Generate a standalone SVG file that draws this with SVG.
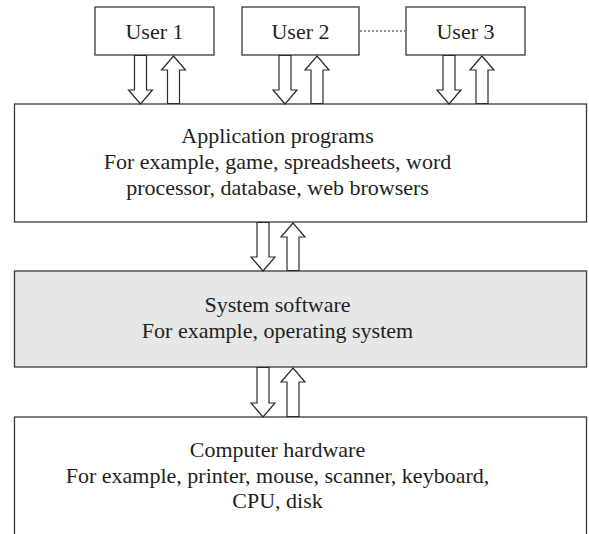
<svg xmlns="http://www.w3.org/2000/svg" width="589" height="534" viewBox="0 0 589 534">
  <defs>
    <style>
      .box { fill: #ffffff; stroke: #3a3a3a; stroke-width: 1.3; }
      .sys { fill: #e6e7e8; }
      .lbl { font-size: 22px; fill: #231f20; text-anchor: middle; }
      .arr { fill: #ffffff; stroke: #2b2b2b; stroke-width: 1.2; stroke-linejoin: miter; }
      .dots { stroke: #2b2b2b; stroke-width: 1.2; stroke-dasharray: 2 2; fill: none; }
    </style>
  </defs>

  <g font-family="'Liberation Serif', 'DejaVu Serif', 'Times New Roman', Times, serif">
    <g id="user1">
      <rect class="box" x="95" y="7" width="119" height="48"/>
      <text class="lbl" x="154.5" y="39">User 1</text>
    </g>
    <g id="user2">
      <rect class="box" x="242" y="7" width="117" height="48"/>
      <text class="lbl" x="300.5" y="39">User 2</text>
    </g>
    <g id="user3">
      <rect class="box" x="406" y="7" width="119" height="48"/>
      <text class="lbl" x="465.5" y="39">User 3</text>
    </g>

    <g id="applications">
      <rect class="box" x="14.5" y="104" width="572" height="118"/>
      <text class="lbl" x="277.5" y="143">Application programs</text>
      <text class="lbl" x="277.5" y="169">For example, game, spreadsheets, word</text>
      <text class="lbl" x="277.5" y="195">processor, database, web browsers</text>
    </g>

    <g id="system-software">
      <rect class="box sys" x="14.5" y="271" width="572" height="96"/>
      <text class="lbl" x="277.5" y="312">System software</text>
      <text class="lbl" x="277.5" y="338">For example, operating system</text>
    </g>

    <g id="hardware">
      <rect class="box" x="14.5" y="417" width="572" height="140"/>
      <text class="lbl" x="277.5" y="457">Computer hardware</text>
      <text class="lbl" x="277.5" y="483">For example, printer, mouse, scanner, keyboard,</text>
      <text class="lbl" x="277.5" y="508">CPU, disk</text>
    </g>
  </g>

  <g id="connectors">
    <line class="dots" x1="360" y1="31" x2="405" y2="31"/>
    <!-- users to applications -->
    <path class="arr" d="M 134.5,55.5 H 146.5 V 90 H 152.5 L 140.5,104 L 128.5,90 H 134.5 Z"/>
    <path class="arr" d="M 167.5,103.5 H 179.5 V 70 H 185.5 L 173.5,56 L 161.5,70 H 167.5 Z"/>
    <path class="arr" d="M 279,55.5 H 291 V 90 H 297 L 285,104 L 273,90 H 279 Z"/>
    <path class="arr" d="M 311,103.5 H 323 V 70 H 329 L 317,56 L 305,70 H 311 Z"/>
    <path class="arr" d="M 443,55.5 H 455 V 90 H 461 L 449,104 L 437,90 H 443 Z"/>
    <path class="arr" d="M 476,103.5 H 488 V 70 H 494 L 482,56 L 470,70 H 476 Z"/>
    <!-- applications to system software -->
    <path class="arr" d="M 257,222.5 H 269 V 257 H 275 L 263,271 L 251,257 H 257 Z"/>
    <path class="arr" d="M 287,270.5 H 299 V 237 H 305 L 293,223 L 281,237 H 287 Z"/>
    <!-- system software to hardware -->
    <path class="arr" d="M 257,367.5 H 269 V 403 H 275 L 263,417 L 251,403 H 257 Z"/>
    <path class="arr" d="M 287,416.5 H 299 V 382 H 305 L 293,368 L 281,382 H 287 Z"/>
  </g>
</svg>
